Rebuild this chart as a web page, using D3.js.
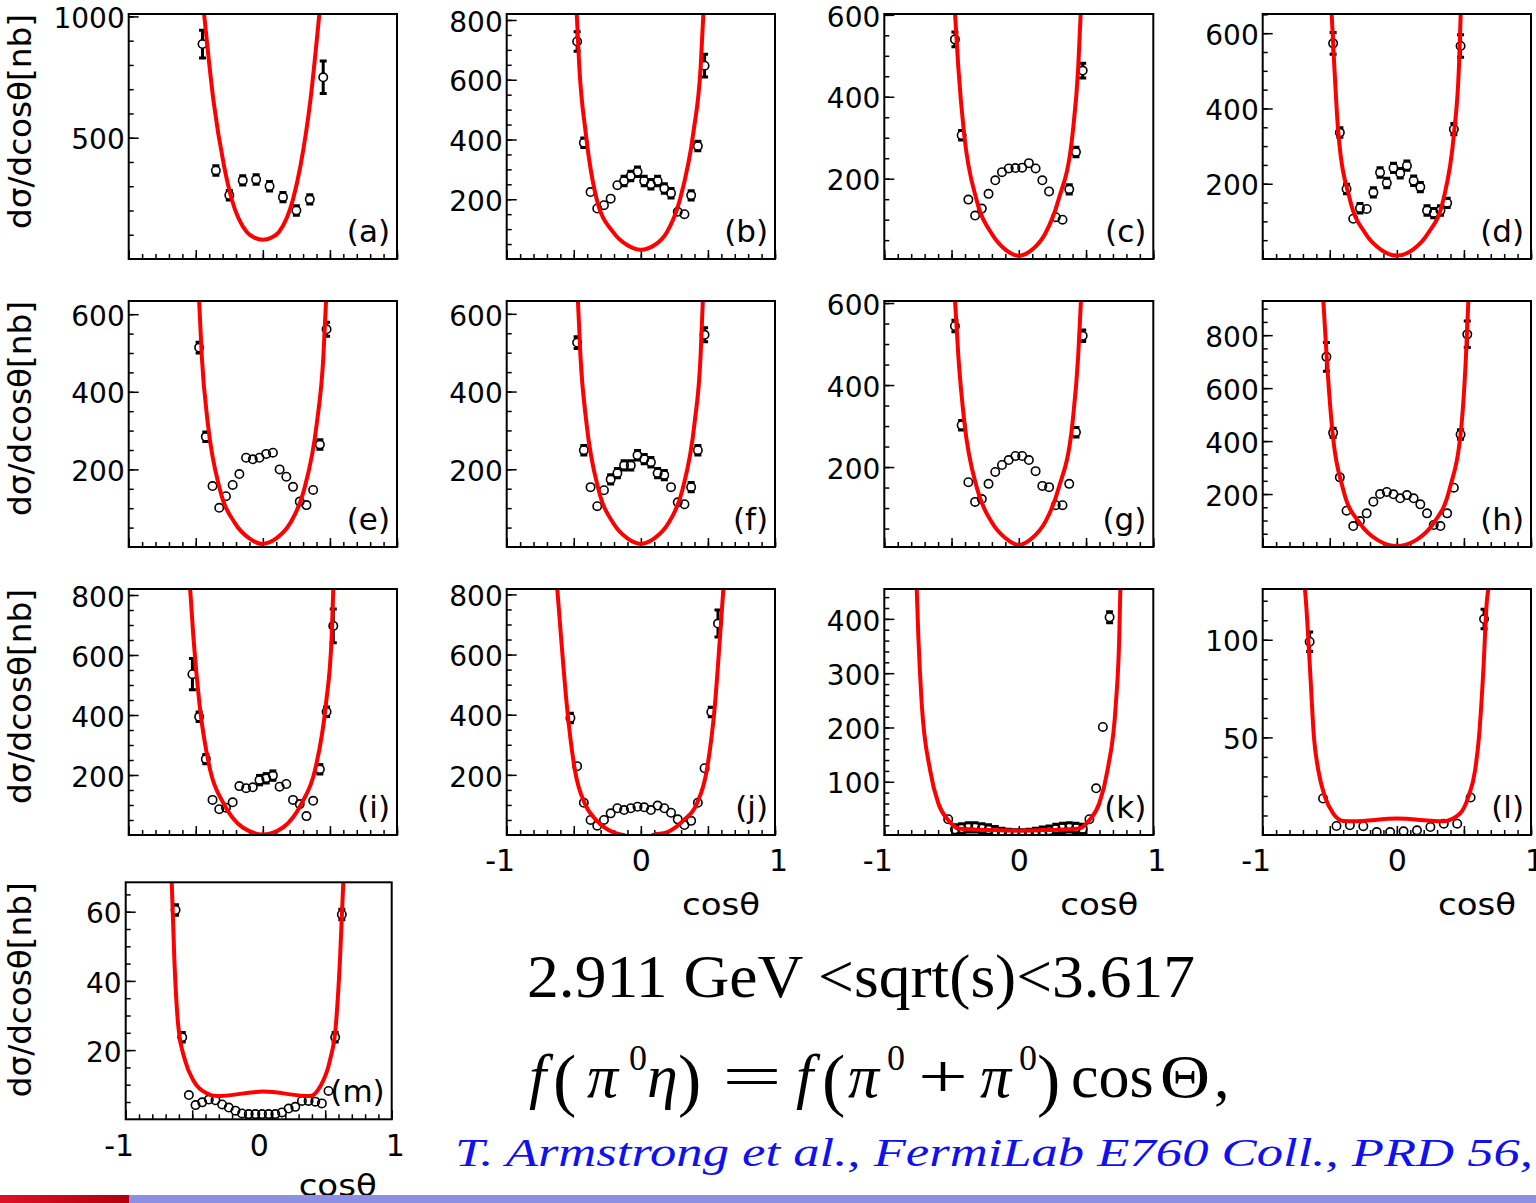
<!DOCTYPE html>
<html>
<head>
<meta charset="utf-8">
<script src="https://cdn.jsdelivr.net/npm/d3@7"></script>
<style>
body { margin: 0; background: #fff; }
</style>
</head>
<body>
<svg id="chart" width="1536" height="1203"></svg>
<script>
// bin centres (cos theta)
const cos10 = [-0.45,-0.35,-0.25,-0.15,-0.05,0.05,0.15,0.25,0.35,0.45];
const cos20 = [-0.475,-0.425,-0.375,-0.325,-0.275,-0.225,-0.175,-0.125,-0.075,-0.025,0.025,0.075,0.125,0.175,0.225,0.275,0.325,0.375,0.425,0.475];
const cos22 = [-0.525,-0.475,-0.425,-0.375,-0.325,-0.275,-0.225,-0.175,-0.125,-0.075,-0.025,0.025,0.075,0.125,0.175,0.225,0.275,0.325,0.375,0.425,0.475,0.525];
const cos23 = [-0.525,-0.475,-0.425,-0.375,-0.325,-0.275,-0.225,-0.175,-0.125,-0.075,-0.025,0.025,0.075,0.125,0.175,0.225,0.275,0.325,0.375,0.425,0.475,0.525,0.575];
const cos25 = [-0.525,-0.475,-0.425,-0.375,-0.325,-0.275,-0.225,-0.175,-0.125,-0.075,-0.025,0.025,0.075,0.125,0.175,0.225,0.275,0.325,0.375,0.425,0.475,0.525,0.575,0.625,0.675];
const cos14 = [-0.65,-0.55,-0.45,-0.35,-0.25,-0.15,-0.05,0.05,0.15,0.25,0.35,0.45,0.55,0.65];
const cos26 = [-0.625,-0.575,-0.525,-0.475,-0.425,-0.375,-0.325,-0.275,-0.225,-0.175,-0.125,-0.075,-0.025,0.025,0.075,0.125,0.175,0.225,0.275,0.325,0.375,0.425,0.475,0.525,0.575,0.625];

// measured dsigma/dcos (nb) and errors
const valA = [886,365,263,324,328,300,255,200,246,749];
const errA = [57,15,12,12,12,12,12,12,12,67];
const valB = [728,389,224,169,180,202,247,261,278,292,261,250,261,236,220,158,150,213,378,647];
const errB = [33,12,0,0,0,0,0,8,8,10,8,8,8,8,8,0,0,8,12,38];
const valC = [540,306,149,110,127,163,196,216,225,226,227,238,225,196,169,106,100,174,265,464];
const errC = [18,8,0,0,0,0,0,0,0,0,0,0,0,0,0,0,0,6,8,18];
const valD = [573,336,186,107,135,133,177,230,202,242,228,248,208,191,129,122,129,149,345,566];
const errD = [29,12,8,0,8,0,8,8,8,8,8,8,8,8,8,8,8,8,15,30];
const valE = [514,284,157,101,131,160,188,230,226,230,240,243,200,181,155,117,108,147,264,561];
const errE = [14,8,0,0,0,0,0,0,0,0,0,0,0,0,0,0,0,0,10,18];
const valF = [526,249,154,105,146,174,190,210,210,236,226,218,190,185,154,115,110,154,249,546];
const errF = [15,10,0,0,0,8,8,8,8,8,8,8,8,8,0,0,0,8,10,18];
const valG = [544,302,163,115,122,159,188,205,217,227,227,217,190,154,151,107,107,159,285,520];
const errG = [14,8,0,0,0,0,0,0,0,0,0,0,0,0,0,0,0,0,8,14];
const valH = [718,431,263,137,79,98,127,171,200,208,199,184,196,184,161,127,83,79,127,224,425,803];
const errH = [54,15,0,0,0,0,0,0,0,0,0,0,0,0,0,0,0,0,0,0,15,50];
const valI = [536,394,253,117,86,91,109,163,156,159,183,189,198,161,170,117,103,63,114,219,411,697];
const errI = [52,15,10,0,0,0,0,0,0,0,8,8,8,0,0,0,0,0,0,10,15,56];
const valJ = [389,229,107,50,31,50,72,89,83,89,94,92,83,98,89,74,52,33,47,107,222,409,703];
const errJ = [12,0,0,0,0,0,0,0,0,0,0,0,0,0,0,0,0,0,0,0,0,12,45];
const valK = [31,12,14,16,16,14,12,9,6,4,3,3,4,6,8,10,13,15,16,15,13,31,88,201,403];
const errK = [0,3,3,3,3,3,3,3,3,3,3,3,3,3,3,3,3,3,3,3,3,0,0,0,10];
const valL = [99,18.7,4.6,5,4.5,1.5,1.5,1.9,2.4,4.1,5.8,5.8,19.2,110.6];
const errL = [5,0,0,0,0,0,0,0,0,0,0,0,0,5];
const valM = [60.5,23.7,7.0,4.1,4.9,5.7,5.5,4.3,3.4,2.5,1.7,1.5,1.5,1.5,1.5,1.5,2.0,3.1,3.6,5.3,5.3,5.1,4.6,8.2,23.7,59.2];
const errM = [1.5,0.8,0,0,0,0,0,0,0,0,0,0,0,0,0,0,0,0,0,0,0,0,0,0,0.8,1.5];

// fitted curves (cos, value)
const fitXA = [-0.438,-0.369,-0.289,-0.232,-0.12,-0.06,0.0,0.06,0.12,0.225,0.28,0.355,0.421];
const fitYA = [1010,657,383,246,111,87,79,87,111,246,383,657,1010];
const fitXB = [-0.478,-0.459,-0.411,-0.329,-0.205,-0.1,0,0.1,0.193,0.292,0.391,0.446,0.466];
const fitYB = [820,644,422,200,89,46,31,46,89,200,422,644,820];
const fitXC = [-0.474,-0.45,-0.407,-0.313,-0.2,-0.1,0,0.1,0.195,0.294,0.4,0.442,0.46];
const fitYC = [602,473,310,147,65,27,12,27,65,147,310,473,602];
const fitXD = [-0.486,-0.466,-0.436,-0.349,-0.237,-0.12,0,0.12,0.234,0.346,0.426,0.463,0.476];
const fitYD = [651,511,334,157,69,25,9,25,69,157,334,511,651];
const fitXE = [-0.475,-0.455,-0.41,-0.319,-0.207,-0.1,-0.008,0.1,0.203,0.307,0.402,0.451,0.471];
const fitYE = [634,490,318,147,61,22,8,22,61,147,318,490,634];
const fitXF = [-0.469,-0.45,-0.405,-0.315,-0.205,-0.1,0,0.1,0.205,0.31,0.4,0.445,0.462];
const fitYF = [633,490,318,147,61,22,8,22,61,147,318,490,633];
const fitXG = [-0.474,-0.45,-0.405,-0.31,-0.2,-0.1,0,0.1,0.195,0.295,0.4,0.442,0.462];
const fitYG = [605,473,310,147,65,27,10,27,65,147,310,473,605];
const fitXH = [-0.548,-0.523,-0.486,-0.399,-0.275,-0.14,0,0.14,0.272,0.391,0.483,0.515,0.533];
const fitYH = [929,718,467,215,89,25,4,25,89,215,467,718,929];
const fitXI = [-0.542,-0.518,-0.473,-0.393,-0.294,-0.15,0.004,0.15,0.29,0.389,0.471,0.513,0.525];
const fitYI = [820,661,439,217,106,25,2,25,106,217,439,661,820];
const fitXJ = [-0.623,-0.595,-0.553,-0.491,-0.416,-0.329,-0.205,-0.131,0,0.088,0.193,0.316,0.416,0.491,0.553,0.59,0.615];
const fitYJ = [818,659,437,214,103,48,9,0,-30,0,9,48,103,214,437,659,818];
const fitXK = [-0.759,-0.747,-0.722,-0.66,-0.598,-0.524,-0.45,-0.2,0,0.2,0.45,0.524,0.598,0.66,0.722,0.747,0.755];
const fitYK = [455,368,245,122,60,29,14,11,10,11,14,29,60,122,245,368,455];
const fitXL = [-0.685,-0.677,-0.647,-0.618,-0.585,-0.536,-0.474,-0.4,-0.325,0,0.346,0.471,0.533,0.583,0.612,0.645,0.67,0.682];
const fitYL = [126,119,84.6,50,33,19.5,11,7.2,7,8.4,7,11,19.5,33,50,84.6,119,126];
const fitXM = [-0.654,-0.634,-0.604,-0.554,-0.492,-0.391,-0.316,0.035,0.386,0.461,0.536,0.579,0.611,0.636];
const fitYM = [68.5,46,26.7,17.1,11.3,7.5,6.7,8,6.7,9.4,17.1,26.7,46,68.5];

// axis ranges and ticks
const yRanges = [[0,1010],[0,820],[4,602],[0,651],[0,634],[0,633],[5,605],[0,929],[0,820],[0,818],[2,455],[0,126],[0,68.5]];
const yMajors = [[500,1000],[200,400,600,800],[200,400,600],[200,400,600],[200,400,600],[200,400,600],[200,400,600],
                 [200,400,600,800],[200,400,600,800],[200,400,600,800],[100,200,300,400],[50,100],[20,40,60]];
const yMinorSteps = [100,50,50,50,50,50,50,50,50,50,20,10,5];
const panelNames = ['(a)','(b)','(c)','(d)','(e)','(f)','(g)','(h)','(i)','(j)','(k)','(l)','(m)'];
const xMajor = [-1,-0.5,0,0.5,1];

const panels = [
  {cos: cos10, val: valA, err: errA, fx: fitXA, fy: fitYA},
  {cos: cos20, val: valB, err: errB, fx: fitXB, fy: fitYB},
  {cos: cos20, val: valC, err: errC, fx: fitXC, fy: fitYC},
  {cos: cos20, val: valD, err: errD, fx: fitXD, fy: fitYD},
  {cos: cos20, val: valE, err: errE, fx: fitXE, fy: fitYE},
  {cos: cos20, val: valF, err: errF, fx: fitXF, fy: fitYF},
  {cos: cos20, val: valG, err: errG, fx: fitXG, fy: fitYG},
  {cos: cos22, val: valH, err: errH, fx: fitXH, fy: fitYH},
  {cos: cos22, val: valI, err: errI, fx: fitXI, fy: fitYI},
  {cos: cos23, val: valJ, err: errJ, fx: fitXJ, fy: fitYJ},
  {cos: cos25, val: valK, err: errK, fx: fitXK, fy: fitYK},
  {cos: cos14, val: valL, err: errL, fx: fitXL, fy: fitYL},
  {cos: cos26, val: valM, err: errM, fx: fitXM, fy: fitYM}
];

// frame boxes on the page
const colX = [[128.7,397],[506.7,775],[884.3,1153.3],[1262.7,1531]];
const rowY = [[14,259],[301,547],[589,835]];
const boxes = [];
for (let r = 0; r < 3; r++) for (let c = 0; c < 4; c++) boxes.push({x0: colX[c][0], x1: colX[c][1], y0: rowY[r][0], y1: rowY[r][1], col: c});
boxes.push({x0: 125.7, x1: 391.7, y0: 882.3, y1: 1119.3, col: 0});
const withXLabels = [9, 10, 11, 12];

const svg = d3.select('#chart');
const defs = svg.append('defs');
const sans = 'DejaVu Sans, sans-serif';

panels.forEach((p, i) => {
  const b = boxes[i];
  const x = d3.scaleLinear().domain([-1, 1]).range([b.x0, b.x1]);
  const y = d3.scaleLinear().domain(yRanges[i]).range([b.y1, b.y0]);
  const g = svg.append('g');

  defs.append('clipPath').attr('id', 'clip' + i)
    .append('rect').attr('x', b.x0).attr('y', b.y0).attr('width', b.x1 - b.x0).attr('height', b.y1 - b.y0);

  // y ticks
  const minor = d3.range(0, yRanges[i][1], yMinorSteps[i]).filter(v => v > yRanges[i][0]);
  g.append('g').attr('transform', `translate(${b.x0},0)`)
    .call(d3.axisLeft(y).tickValues(minor).tickSizeInner(-5).tickSizeOuter(0).tickFormat(''))
    .call(s => s.select('.domain').remove());
  const ya = g.append('g').attr('transform', `translate(${b.x0},0)`)
    .call(d3.axisLeft(y).tickValues(yMajors[i]).tickSizeInner(-10).tickSizeOuter(0).tickPadding(4).tickFormat(d => String(d)))
    .call(s => s.select('.domain').remove());
  ya.selectAll('text').attr('font-family', sans).attr('font-size', 28).attr('dy', '0.4em').attr('fill', '#000');

  // x ticks
  g.append('g').attr('transform', `translate(0,${b.y1})`)
    .call(d3.axisBottom(x).tickValues(d3.range(-10, 11).map(k => k / 10)).tickSizeInner(-5).tickSizeOuter(0).tickFormat(''))
    .call(s => s.select('.domain').remove());
  const xa = g.append('g').attr('transform', `translate(0,${b.y1})`)
    .call(d3.axisBottom(x).tickValues(xMajor).tickSizeInner(-9).tickSizeOuter(0).tickPadding(15)
      .tickFormat(d => withXLabels.includes(i) && Number.isInteger(d) ? String(d) : ''))
    .call(s => s.select('.domain').remove());
  xa.selectAll('text').attr('font-family', sans).attr('font-size', 30).attr('fill', '#000')
    .attr('dx', d => d < 0 ? -7 : (d > 0 ? 3 : 0));
  g.selectAll('.tick line').attr('stroke-width', 1.5).attr('stroke', '#000');

  // points with error bars
  const pts = p.cos.map((c, k) => ({c: c, v: p.val[k], e: p.err[k]}));
  const plot = g.append('g').attr('clip-path', `url(#clip${i})`);
  const r = 4.2;
  pts.forEach(d => {
    if (!d.e) return;
    const cx = x(d.c), cy = y(d.v);
    const ep = Math.max(Math.abs(y(d.v + d.e) - cy), r + 0.5);
    if (ep > r + 1) {
      plot.append('line').attr('x1', cx).attr('x2', cx).attr('y1', cy - ep).attr('y2', cy - r)
        .attr('stroke', '#000').attr('stroke-width', 3);
      plot.append('line').attr('x1', cx).attr('x2', cx).attr('y1', cy + r).attr('y2', cy + ep)
        .attr('stroke', '#000').attr('stroke-width', 3);
    }
    [-1, 1].forEach(sg => plot.append('line')
      .attr('x1', cx - 3.5).attr('x2', cx + 3.5).attr('y1', cy + sg * ep).attr('y2', cy + sg * ep)
      .attr('stroke', '#000').attr('stroke-width', 3));
  });
  plot.selectAll('circle').data(pts).enter().append('circle')
    .attr('cx', d => x(d.c)).attr('cy', d => y(d.v)).attr('r', r)
    .attr('fill', 'none').attr('stroke', '#000').attr('stroke-width', 1.6);

  // fit curve
  const fit = p.fx.map((c, k) => [c, p.fy[k]]);
  plot.append('path').datum(fit)
    .attr('d', d3.line().x(d => x(d[0])).y(d => y(d[1])).curve(d3.curveMonotoneX))
    .attr('fill', 'none').attr('stroke', '#ff0000').attr('stroke-width', 4);

  // frame
  g.append('rect').attr('x', b.x0).attr('y', b.y0).attr('width', b.x1 - b.x0).attr('height', b.y1 - b.y0)
    .attr('fill', 'none').attr('stroke', '#000').attr('stroke-width', 2);

  // panel label
  g.append('text').attr('x', b.x1 - 7).attr('y', b.y1 - 17).attr('text-anchor', 'end')
    .attr('font-family', sans).attr('font-size', 31).text(panelNames[i]);

  if (b.col === 0) {
    g.append('text').attr('transform', `translate(31,${b.y0}) rotate(-90)`).attr('text-anchor', 'end')
      .attr('font-family', sans).attr('font-size', 32).attr('textLength', 215).attr('lengthAdjust', 'spacingAndGlyphs')
      .text('dσ/dcosθ[nb]');
  }
  if (withXLabels.includes(i)) {
    g.append('text').attr('x', b.x1 - 15).attr('y', i === 12 ? b.y1 + 77 : b.y1 + 80).attr('text-anchor', 'end')
      .attr('font-family', sans).attr('font-size', 30).attr('textLength', 78).attr('lengthAdjust', 'spacingAndGlyphs')
      .text('cosθ');
  }
});

// text block
const serif = "'Liberation Serif', 'Times New Roman', serif";
svg.append('text').attr('x', 527).attr('y', 997).attr('font-family', serif).attr('font-size', 62)
  .attr('textLength', 668).attr('lengthAdjust', 'spacingAndGlyphs').text('2.911 GeV <sqrt(s)<3.617');

// formula pieces: text, x, stretched width (0 = natural), style, size, baseline
const formula = [
  ['f', 529, 0, 'italic', 62, 1097],
  ['(', 553, 0, 'normal', 70, 1103],
  ['π', 587, 0, 'italic', 62, 1097],
  ['0', 629, 0, 'normal', 36, 1070],
  ['η', 647, 0, 'italic', 62, 1097],
  [')', 678, 0, 'normal', 70, 1103],
  ['=', 722, 60, 'normal', 62, 1097],
  ['f', 796, 0, 'italic', 62, 1097],
  ['(', 822, 0, 'normal', 70, 1103],
  ['π', 848, 0, 'italic', 62, 1097],
  ['0', 887, 0, 'normal', 36, 1070],
  ['+', 918, 50, 'normal', 62, 1097],
  ['π', 980, 0, 'italic', 62, 1097],
  ['0', 1019, 0, 'normal', 36, 1070],
  [')', 1037, 0, 'normal', 70, 1103],
  ['cos', 1071, 0, 'normal', 62, 1097],
  ['Θ', 1160, 50, 'normal', 62, 1097],
  [',', 1214, 0, 'normal', 62, 1097]
];
const ft = svg.append('g').selectAll('text').data(formula).enter().append('text')
  .attr('x', d => d[1]).attr('y', d => d[5])
  .attr('font-family', serif).attr('font-style', d => d[3]).attr('font-size', d => d[4]).text(d => d[0]);
ft.filter(d => d[2] > 0).attr('textLength', d => d[2]).attr('lengthAdjust', 'spacingAndGlyphs');

svg.append('text').attr('x', 455).attr('y', 1166).attr('font-family', serif).attr('font-style', 'italic')
  .attr('font-size', 40).attr('fill', '#1010f0').attr('textLength', 1078).attr('lengthAdjust', 'spacingAndGlyphs')
  .text('T. Armstrong et al., FermiLab E760 Coll., PRD 56,');

// bottom bar
const grad = defs.append('linearGradient').attr('id', 'redbar');
grad.append('stop').attr('offset', '0%').attr('stop-color', '#e0102a');
grad.append('stop').attr('offset', '100%').attr('stop-color', '#b00010');
svg.append('rect').attr('x', 0).attr('y', 1195).attr('width', 129).attr('height', 8).attr('fill', 'url(#redbar)');
svg.append('rect').attr('x', 129).attr('y', 1195).attr('width', 1407).attr('height', 8).attr('fill', '#8c8fe2');
</script>
</body>
</html>
